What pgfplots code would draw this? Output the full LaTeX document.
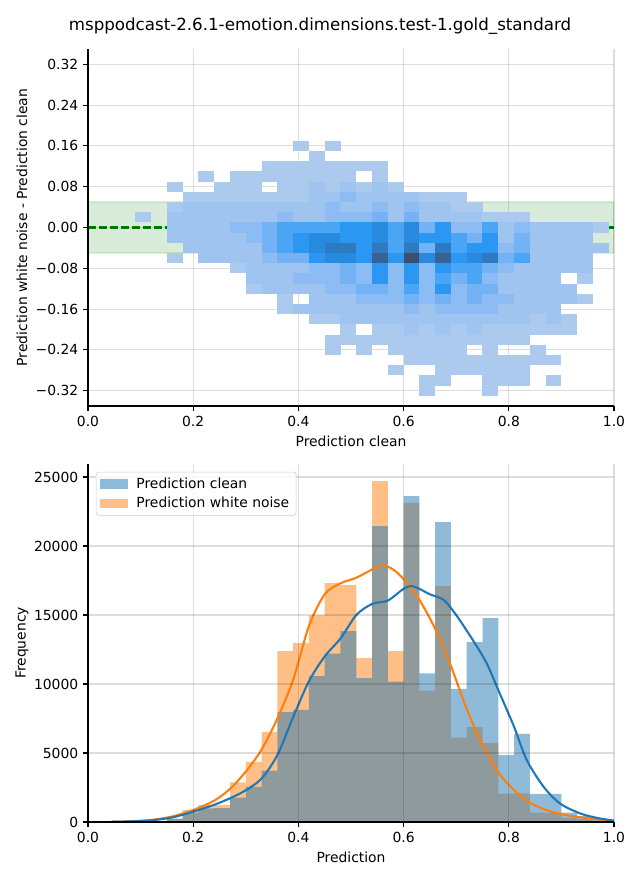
\documentclass[border=0pt]{standalone}
\usepackage{pgfplots}
\pgfplotsset{compat=1.18}
\usepackage{fontspec}
\setmainfont{DejaVu Sans}
\definecolor{mplblue}{RGB}{31,119,180}
\definecolor{mplorange}{RGB}{255,127,14}
\definecolor{mplgreen}{RGB}{0,128,0}
\pgfdeclareplotmark{hmcell}{\pgfpathrectangle{\pgfpoint{-5.71pt}{-3.70pt}}{\pgfpoint{11.42pt}{7.40pt}}\pgfusepathqfill}
\pgfplotsset{
  colormap={hm}{rgb255(0cm)=(172,201,238) rgb255(1cm)=(160,196,240) rgb255(2cm)=(140,188,243) rgb255(3cm)=(115,178,245) rgb255(4cm)=(75,165,245) rgb255(5cm)=(42,152,243) rgb255(6cm)=(40,138,222) rgb255(7cm)=(46,122,192) rgb255(8cm)=(56,98,148) rgb255(9cm)=(60,78,108)},
  mplaxis/.style={
    scale only axis, width=378.72pt,
    axis x line*=bottom, axis y line*=left,
    axis line style={-, line width=0.8pt},
    tick align=outside, major tick length=3.5pt,
    every tick/.append style={line width=0.8pt, black},
    tick label style={font=\fontsize{10}{12}\selectfont},
    label style={font=\fontsize{10}{12}\selectfont},
    grid=major, grid style={line width=0.8pt, black, opacity=0.13},
    axis on top,
    scaled ticks=false,
    xmin=0, xmax=1, xtick={0,0.2,0.4,0.6,0.8,1},
    xticklabels={0.0,0.2,0.4,0.6,0.8,1.0},
    xlabel style={at={(axis description cs:0.5,-0.098)}, anchor=center},
    ylabel style={at={(axis description cs:-0.1255,0.5)}, anchor=center},
  }
}
\begin{document}
\begin{tikzpicture}
\useasboundingbox (0,0) rectangle (460.8pt,633.6pt);
\node[font=\fontsize{12}{14.4}\selectfont] at (230.4pt,614.9pt) {msppodcast-2.6.1-emotion.dimensions.test-1.gold\_standard};

\begin{axis}[mplaxis, at={(63.36pt,341.28pt)}, anchor=south west,
  height=257.04pt, ymin=-0.35, ymax=0.35,
  ytick={-0.32,-0.24,-0.16,-0.08,0,0.08,0.16,0.24,0.32},
  yticklabels={−0.32,−0.24,−0.16,−0.08,0.00,0.08,0.16,0.24,0.32},
  xlabel={Prediction clean}, ylabel={Prediction white noise - Prediction clean},
  colormap name=hm, point meta min=0, point meta max=9]
\addplot[fill=mplgreen, fill opacity=0.15, draw=mplgreen, draw opacity=0.12, line width=0.8pt] coordinates {(0,-0.05) (1,-0.05) (1,0.05) (0,0.05) (0,-0.05)};
\addplot[scatter, only marks, mark=hmcell, point meta=explicit, scatter/use mapped color={fill=mapped color, draw=none}]
 table[row sep=\\, meta=v] {x y v\\
0.405 0.16 0\\ 0.465 0.16 0\\
0.435 0.14 0\\
0.345 0.12 0\\ 0.375 0.12 0\\ 0.405 0.12 0\\ 0.435 0.12 0\\ 0.465 0.12 0\\ 0.495 0.12 0\\ 0.525 0.12 0\\ 0.555 0.12 0\\
0.225 0.10 0\\ 0.285 0.10 0\\ 0.315 0.10 0\\ 0.345 0.10 0\\ 0.375 0.10 0\\ 0.405 0.10 0\\ 0.435 0.10 0\\ 0.465 0.10 0\\ 0.495 0.10 0\\ 0.555 0.10 0\\
0.165 0.08 0\\ 0.255 0.08 0\\ 0.285 0.08 0\\ 0.315 0.08 0\\ 0.375 0.08 0\\ 0.405 0.08 0\\ 0.435 0.08 1\\ 0.465 0.08 0\\ 0.495 0.08 1\\ 0.525 0.08 0\\ 0.555 0.08 1\\ 0.585 0.08 0\\
0.195 0.06 0\\ 0.225 0.06 0\\ 0.255 0.06 0\\ 0.285 0.06 0\\ 0.315 0.06 0\\ 0.345 0.06 0\\ 0.375 0.06 0\\ 0.405 0.06 0\\ 0.435 0.06 1\\ 0.465 0.06 1\\ 0.495 0.06 2\\ 0.525 0.06 1\\ 0.555 0.06 1\\ 0.585 0.06 1\\ 0.615 0.06 1\\ 0.645 0.06 0\\ 0.675 0.06 0\\ 0.705 0.06 0\\
0.165 0.04 0\\ 0.195 0.04 1\\ 0.225 0.04 1\\ 0.255 0.04 1\\ 0.285 0.04 1\\ 0.315 0.04 1\\ 0.345 0.04 1\\ 0.375 0.04 1\\ 0.405 0.04 1\\ 0.435 0.04 1\\ 0.465 0.04 2\\ 0.495 0.04 1\\ 0.525 0.04 1\\ 0.555 0.04 2\\ 0.585 0.04 1\\ 0.615 0.04 2\\ 0.645 0.04 1\\ 0.675 0.04 1\\ 0.705 0.04 0\\ 0.735 0.04 0\\
0.105 0.02 0\\ 0.165 0.02 1\\ 0.195 0.02 1\\ 0.225 0.02 1\\ 0.255 0.02 1\\ 0.285 0.02 1\\ 0.315 0.02 1\\ 0.345 0.02 1\\ 0.375 0.02 2\\ 0.405 0.02 1\\ 0.435 0.02 1\\ 0.465 0.02 2\\ 0.495 0.02 2\\ 0.525 0.02 2\\ 0.555 0.02 3\\ 0.585 0.02 1\\ 0.615 0.02 3\\ 0.645 0.02 1\\ 0.675 0.02 1\\ 0.705 0.02 1\\ 0.735 0.02 1\\ 0.765 0.02 0\\ 0.795 0.02 0\\ 0.825 0.02 0\\
0.165 0 1\\ 0.195 0 1\\ 0.225 0 1\\ 0.255 0 1\\ 0.285 0 2\\ 0.315 0 2\\ 0.345 0 3\\ 0.375 0 4\\ 0.405 0 4\\ 0.435 0 4\\ 0.465 0 4\\ 0.495 0 5\\ 0.525 0 5\\ 0.555 0 6\\ 0.585 0 4\\ 0.615 0 6\\ 0.645 0 3\\ 0.675 0 5\\ 0.705 0 2\\ 0.735 0 2\\ 0.765 0 4\\ 0.795 0 1\\ 0.825 0 2\\ 0.855 0 1\\ 0.885 0 1\\ 0.915 0 1\\ 0.945 0 1\\ 0.975 0 0\\
0.165 -0.02 1\\ 0.195 -0.02 1\\ 0.225 -0.02 1\\ 0.255 -0.02 1\\ 0.285 -0.02 1\\ 0.315 -0.02 2\\ 0.345 -0.02 3\\ 0.375 -0.02 4\\ 0.405 -0.02 5\\ 0.435 -0.02 6\\ 0.465 -0.02 6\\ 0.495 -0.02 5\\ 0.525 -0.02 5\\ 0.555 -0.02 6\\ 0.585 -0.02 4\\ 0.615 -0.02 6\\ 0.645 -0.02 5\\ 0.675 -0.02 5\\ 0.705 -0.02 4\\ 0.735 -0.02 3\\ 0.765 -0.02 5\\ 0.795 -0.02 1\\ 0.825 -0.02 3\\ 0.855 -0.02 1\\ 0.885 -0.02 1\\ 0.915 -0.02 1\\ 0.945 -0.02 1\\
0.195 -0.04 1\\ 0.225 -0.04 1\\ 0.255 -0.04 1\\ 0.285 -0.04 1\\ 0.315 -0.04 1\\ 0.345 -0.04 3\\ 0.375 -0.04 4\\ 0.405 -0.04 5\\ 0.435 -0.04 6\\ 0.465 -0.04 7\\ 0.495 -0.04 7\\ 0.525 -0.04 5\\ 0.555 -0.04 7\\ 0.585 -0.04 4\\ 0.615 -0.04 7\\ 0.645 -0.04 3\\ 0.675 -0.04 7\\ 0.705 -0.04 4\\ 0.735 -0.04 5\\ 0.765 -0.04 5\\ 0.795 -0.04 2\\ 0.825 -0.04 3\\ 0.855 -0.04 1\\ 0.885 -0.04 1\\ 0.915 -0.04 1\\ 0.945 -0.04 1\\ 0.975 -0.04 1\\
0.165 -0.06 0\\ 0.225 -0.06 1\\ 0.255 -0.06 1\\ 0.285 -0.06 1\\ 0.315 -0.06 1\\ 0.345 -0.06 2\\ 0.375 -0.06 3\\ 0.405 -0.06 3\\ 0.435 -0.06 5\\ 0.465 -0.06 6\\ 0.495 -0.06 6\\ 0.525 -0.06 5\\ 0.555 -0.06 8\\ 0.585 -0.06 5\\ 0.615 -0.06 9\\ 0.645 -0.06 6\\ 0.675 -0.06 8\\ 0.705 -0.06 5\\ 0.735 -0.06 6\\ 0.765 -0.06 7\\ 0.795 -0.06 3\\ 0.825 -0.06 4\\ 0.855 -0.06 1\\ 0.885 -0.06 1\\ 0.915 -0.06 1\\ 0.945 -0.06 1\\
0.285 -0.08 0\\ 0.315 -0.08 1\\ 0.345 -0.08 1\\ 0.375 -0.08 1\\ 0.405 -0.08 1\\ 0.435 -0.08 2\\ 0.465 -0.08 2\\ 0.495 -0.08 3\\ 0.525 -0.08 2\\ 0.555 -0.08 5\\ 0.585 -0.08 2\\ 0.615 -0.08 5\\ 0.645 -0.08 2\\ 0.675 -0.08 5\\ 0.705 -0.08 4\\ 0.735 -0.08 4\\ 0.765 -0.08 3\\ 0.795 -0.08 2\\ 0.825 -0.08 1\\ 0.855 -0.08 1\\ 0.885 -0.08 1\\ 0.915 -0.08 1\\ 0.945 -0.08 1\\
0.315 -0.10 1\\ 0.345 -0.10 1\\ 0.375 -0.10 1\\ 0.405 -0.10 2\\ 0.435 -0.10 2\\ 0.465 -0.10 2\\ 0.495 -0.10 3\\ 0.525 -0.10 2\\ 0.555 -0.10 5\\ 0.585 -0.10 2\\ 0.615 -0.10 5\\ 0.645 -0.10 2\\ 0.675 -0.10 4\\ 0.705 -0.10 3\\ 0.735 -0.10 4\\ 0.765 -0.10 2\\ 0.795 -0.10 1\\ 0.825 -0.10 1\\ 0.855 -0.10 1\\ 0.885 -0.10 1\\ 0.945 -0.10 0\\
0.315 -0.12 0\\ 0.345 -0.12 1\\ 0.375 -0.12 1\\ 0.405 -0.12 1\\ 0.435 -0.12 1\\ 0.465 -0.12 2\\ 0.495 -0.12 2\\ 0.525 -0.12 3\\ 0.555 -0.12 3\\ 0.585 -0.12 2\\ 0.615 -0.12 4\\ 0.645 -0.12 2\\ 0.675 -0.12 5\\ 0.705 -0.12 2\\ 0.735 -0.12 3\\ 0.765 -0.12 3\\ 0.795 -0.12 1\\ 0.825 -0.12 1\\ 0.855 -0.12 1\\ 0.885 -0.12 1\\ 0.915 -0.12 1\\
0.375 -0.14 0\\ 0.435 -0.14 1\\ 0.465 -0.14 1\\ 0.495 -0.14 1\\ 0.525 -0.14 2\\ 0.555 -0.14 2\\ 0.585 -0.14 2\\ 0.615 -0.14 3\\ 0.645 -0.14 2\\ 0.675 -0.14 3\\ 0.705 -0.14 2\\ 0.735 -0.14 3\\ 0.765 -0.14 2\\ 0.795 -0.14 2\\ 0.825 -0.14 1\\ 0.855 -0.14 1\\ 0.885 -0.14 1\\ 0.915 -0.14 1\\ 0.945 -0.14 0\\
0.375 -0.16 0\\ 0.405 -0.16 1\\ 0.435 -0.16 1\\ 0.465 -0.16 1\\ 0.495 -0.16 1\\ 0.525 -0.16 1\\ 0.555 -0.16 1\\ 0.585 -0.16 1\\ 0.615 -0.16 2\\ 0.645 -0.16 1\\ 0.675 -0.16 2\\ 0.705 -0.16 2\\ 0.735 -0.16 2\\ 0.765 -0.16 2\\ 0.795 -0.16 1\\ 0.825 -0.16 1\\ 0.855 -0.16 1\\ 0.885 -0.16 1\\
0.435 -0.18 0\\ 0.465 -0.18 0\\ 0.495 -0.18 1\\ 0.525 -0.18 1\\ 0.555 -0.18 1\\ 0.585 -0.18 1\\ 0.615 -0.18 1\\ 0.645 -0.18 1\\ 0.675 -0.18 1\\ 0.705 -0.18 1\\ 0.735 -0.18 1\\ 0.765 -0.18 1\\ 0.795 -0.18 1\\ 0.825 -0.18 1\\ 0.855 -0.18 0\\ 0.885 -0.18 1\\ 0.915 -0.18 0\\
0.495 -0.20 0\\ 0.555 -0.20 0\\ 0.585 -0.20 0\\ 0.615 -0.20 1\\ 0.645 -0.20 0\\ 0.675 -0.20 1\\ 0.705 -0.20 0\\ 0.735 -0.20 1\\ 0.765 -0.20 0\\ 0.795 -0.20 0\\ 0.825 -0.20 0\\ 0.855 -0.20 0\\ 0.885 -0.20 0\\ 0.915 -0.20 0\\
0.465 -0.22 0\\ 0.495 -0.22 0\\ 0.525 -0.22 0\\ 0.555 -0.22 0\\ 0.585 -0.22 0\\ 0.615 -0.22 0\\ 0.645 -0.22 0\\ 0.675 -0.22 0\\ 0.705 -0.22 0\\ 0.735 -0.22 0\\ 0.765 -0.22 0\\ 0.795 -0.22 0\\ 0.825 -0.22 0\\
0.465 -0.24 0\\ 0.525 -0.24 0\\ 0.585 -0.24 0\\ 0.615 -0.24 0\\ 0.645 -0.24 0\\ 0.675 -0.24 0\\ 0.705 -0.24 0\\ 0.765 -0.24 0\\ 0.855 -0.24 0\\
0.615 -0.26 0\\ 0.645 -0.26 0\\ 0.675 -0.26 0\\ 0.705 -0.26 0\\ 0.735 -0.26 0\\ 0.765 -0.26 0\\ 0.795 -0.26 0\\ 0.825 -0.26 0\\ 0.855 -0.26 0\\ 0.885 -0.26 0\\
0.585 -0.28 0\\ 0.675 -0.28 0\\ 0.705 -0.28 0\\ 0.735 -0.28 0\\ 0.765 -0.28 0\\ 0.795 -0.28 0\\ 0.825 -0.28 0\\
0.645 -0.30 0\\ 0.675 -0.30 0\\ 0.765 -0.30 0\\ 0.795 -0.30 0\\ 0.825 -0.30 0\\ 0.885 -0.30 0\\
0.645 -0.32 0\\ 0.765 -0.32 0\\
};
\addplot[mplgreen, line width=1.5pt, dash pattern=on 5.55pt off 2.4pt] coordinates {(0,0) (1,0)};
\end{axis}

\begin{axis}[mplaxis, at={(63.36pt,41.76pt)}, anchor=south west,
  height=257.8pt, ymin=0, ymax=25950,
  ytick={0,5000,10000,15000,20000,25000},
  yticklabels={0,5000,10000,15000,20000,25000},
  xlabel={Prediction}, ylabel={Frequency},
  xlabel style={at={(axis description cs:0.5,-0.0975)}, anchor=center},
  legend cell align=left,
  legend style={at={(0.015,0.978)}, anchor=north west, draw=black!20, rounded corners=2pt, fill=white, fill opacity=0.8, text opacity=1, font=\fontsize{10}{12}\selectfont, inner xsep=3pt, inner ysep=2pt, row sep=1pt, column sep=4pt},
  legend image code/.code={\path[#1, draw=none, sharp corners] (0pt,-3.5pt) rectangle (20pt,3.5pt);}]
\addplot[ybar interval, fill=mplorange, fill opacity=0.5, draw=none, forget plot] table {
x y
0.12 80
0.15 260
0.18 870
0.21 1230
0.24 1250
0.27 2870
0.30 4350
0.33 6520
0.36 12390
0.39 12970
0.42 14980
0.45 17320
0.48 17170
0.51 11880
0.54 24710
0.57 12390
0.60 23120
0.63 9520
0.66 17100
0.69 6110
0.72 6880
0.75 5720
0.78 2050
0.81 2070
0.84 680
0.87 680
0.90 300
0.93 200
0.96 100
0.99 100
};
\addplot[ybar interval, fill=mplblue, fill opacity=0.5, draw=none, forget plot] table {
x y
0.12 60
0.15 200
0.18 675
0.21 990
0.24 1000
0.27 1760
0.30 2540
0.33 3720
0.36 7970
0.39 8120
0.42 10580
0.45 12200
0.48 13840
0.51 10430
0.54 21450
0.57 10170
0.60 23620
0.63 10770
0.66 21740
0.69 9640
0.72 13040
0.75 14780
0.78 4850
0.81 6380
0.84 2030
0.87 2030
0.90 680
0.93 430
0.96 150
0.99 150
};
\addplot[smooth, mplorange, line width=1.5pt, forget plot] coordinates {
(0.045,20) (0.08,50) (0.12,150) (0.16,400) (0.20,870) (0.24,1550) (0.27,2400) (0.30,3650) (0.33,5250) (0.36,7500) (0.39,10300) (0.42,14200) (0.45,16500) (0.48,17300) (0.51,17700) (0.54,18300) (0.56,18600) (0.58,18300) (0.60,17600) (0.63,16100) (0.66,14000) (0.69,11300) (0.72,8200) (0.75,5600) (0.78,3600) (0.81,2300) (0.84,1400) (0.87,880) (0.90,560) (0.93,380) (0.96,220) (1.0,80)};
\addplot[smooth, mplblue, line width=1.5pt, forget plot] coordinates {
(0.045,20) (0.08,40) (0.12,120) (0.16,330) (0.20,750) (0.24,1250) (0.27,1720) (0.30,2300) (0.33,3150) (0.36,4850) (0.39,7600) (0.42,10200) (0.45,12000) (0.48,13300) (0.51,15000) (0.54,15800) (0.57,16050) (0.60,16900) (0.615,17100) (0.63,16900) (0.65,16500) (0.676,16100) (0.70,15000) (0.733,13100) (0.758,11500) (0.783,9300) (0.81,6900) (0.834,4500) (0.866,2560) (0.897,1350) (0.935,630) (0.97,280) (1.0,100)};
\addlegendimage{fill=mplblue, fill opacity=0.5}
\addlegendentry{Prediction clean}
\addlegendimage{fill=mplorange, fill opacity=0.5}
\addlegendentry{Prediction white noise}
\end{axis}
\end{tikzpicture}
\end{document}
